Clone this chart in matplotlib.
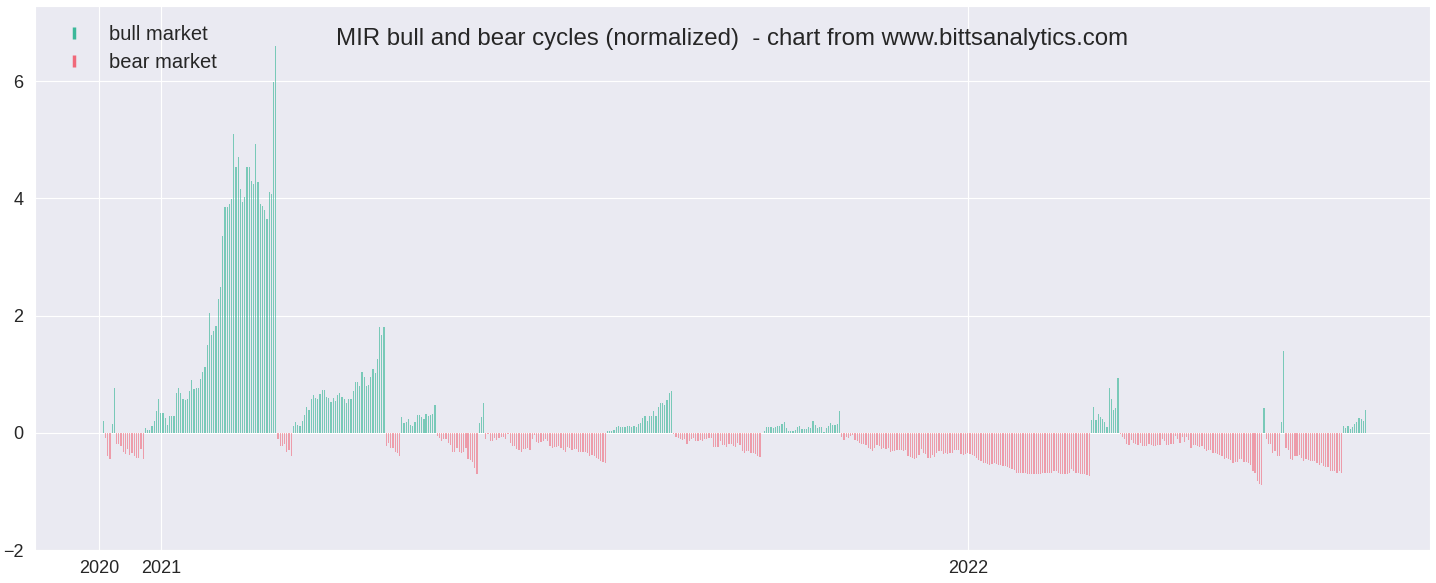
import numpy as np
import pandas as pd
import matplotlib
matplotlib.use("Agg")
import matplotlib.pyplot as plt
import matplotlib.dates as mdates
from matplotlib.lines import Line2D
import seaborn as sns

# first day of data, one value per day after that
start_date = "2020-12-06"

# normalized MIR values (positive = bull, negative = bear)
values = [
    0.2, -0.09, -0.4, -0.44, 0.15, 0.76, -0.19, -0.2, -0.23, -0.32, -0.36, -0.27,
    -0.38, -0.34, -0.4, -0.43, -0.43, -0.28, -0.45, 0.08, 0.04, 0.04, 0.12, 0.2,
    0.37, 0.57, 0.33, 0.33, 0.25, 0.14, 0.28, 0.28, 0.28, 0.67, 0.76,
    0.68, 0.58, 0.56, 0.58, 0.71, 0.9, 0.74, 0.76, 0.76, 0.91, 1.04, 1.13, 1.5,
    2.04, 1.67, 1.74, 1.82, 2.28, 2.49, 3.35, 3.85, 3.85, 3.9, 3.98, 5.1, 4.54,
    4.7, 4.15, 3.93, 4.02, 4.53, 4.53, 4.3, 4.24, 4.92, 4.28, 3.9, 3.86, 3.8,
    3.64, 4.1, 4.07, 5.98, 6.6,
    -0.1, -0.22, -0.22, -0.2, -0.32, -0.3, -0.4,
    0.11, 0.19, 0.14, 0.11, 0.2, 0.3, 0.44, 0.38, 0.57, 0.64, 0.59, 0.57, 0.66,
    0.73, 0.73, 0.61, 0.59, 0.53, 0.59, 0.54, 0.64, 0.67, 0.61, 0.57, 0.5, 0.57,
    0.57, 0.71, 0.86, 0.86, 0.8, 1.03, 0.95, 0.8, 0.81, 0.95, 1.09, 1.02, 1.26,
    1.8, 1.66, 1.8,
    -0.23, -0.18, -0.26, -0.26, -0.32, -0.35, -0.4,
    0.27, 0.16, 0.18, 0.23, 0.13, 0.11, 0.18, 0.3, 0.3, 0.27, 0.23, 0.32, 0.28,
    0.3, 0.32, 0.47,
    -0.06, -0.09, -0.14, -0.11, -0.11, -0.18, -0.21, -0.32, -0.32, -0.26, -0.32,
    -0.35, -0.33, -0.26, -0.45, -0.47, -0.5, -0.6, -0.71,
    0.16, 0.27, 0.5,
    -0.11, -0.02, -0.14, -0.14, -0.09, -0.12, -0.09, -0.07, -0.07, -0.11, -0.02,
    -0.18, -0.23, -0.23, -0.28, -0.3, -0.32, -0.28, -0.28, -0.26, -0.3, -0.11,
    -0.03, -0.16, -0.18, -0.15, -0.14, -0.11, -0.14, -0.23, -0.26, -0.24, -0.24,
    -0.23, -0.26, -0.3, -0.32, -0.24, -0.26, -0.3, -0.28, -0.28, -0.32,
    -0.32, -0.32, -0.32, -0.35, -0.39, -0.38, -0.39, -0.43, -0.45, -0.48, -0.5,
    -0.52,
    0.03, 0.03, 0.03, 0.05, 0.1, 0.11, 0.1, 0.1, 0.1, 0.11, 0.11, 0.1, 0.11,
    0.1, 0.15, 0.16, 0.25, 0.28, 0.2, 0.28, 0.28, 0.37, 0.28, 0.44, 0.51, 0.51,
    0.47, 0.56, 0.68, 0.71,
    -0.02, -0.07, -0.09, -0.11, -0.13, -0.11, -0.19, -0.14, -0.11, -0.09, -0.14,
    -0.14, -0.13, -0.14, -0.11, -0.11, -0.09, -0.09, -0.24, -0.24, -0.24, -0.14,
    -0.21, -0.21, -0.24, -0.19, -0.19, -0.23, -0.24, -0.18, -0.21, -0.31, -0.35,
    -0.31, -0.31, -0.35, -0.35, -0.36, -0.39, -0.41, 0.0,
    0.03, 0.1, 0.1, 0.1, 0.08, 0.1, 0.11, 0.11, 0.15, 0.18, 0.08, 0.03, 0.03,
    0.03, 0.05, 0.1, 0.11, 0.06, 0.06, 0.06, 0.1, 0.08, 0.2, 0.13, 0.08, 0.1,
    0.1, 0.01, 0.08, 0.11, 0.16, 0.13, 0.13, 0.15, 0.37,
    -0.07, -0.13, -0.07, -0.09, -0.06, -0.04, -0.13, -0.14, -0.18,
    -0.19, -0.19, -0.21, -0.26, -0.28, -0.31, -0.26, -0.21, -0.23, -0.28,
    -0.26, -0.28, -0.26, -0.33, -0.31, -0.31, -0.3, -0.3, -0.3, -0.31,
    -0.3, -0.4, -0.41, -0.43, -0.45, -0.43, -0.38, -0.28, -0.35, -0.36,
    -0.43, -0.43, -0.38, -0.41, -0.35, -0.31, -0.31, -0.36, -0.35, -0.36,
    -0.35, -0.35, -0.3, -0.3, -0.3, -0.36, -0.38, -0.36, -0.35, -0.36,
    -0.38, -0.4, -0.43, -0.46, -0.49, -0.51, -0.52, -0.54, -0.55, -0.54,
    -0.52, -0.54, -0.55, -0.55, -0.57, -0.57, -0.59, -0.6, -0.61, -0.63,
    -0.68, -0.68, -0.68, -0.69, -0.69, -0.71, -0.71, -0.71, -0.71, -0.71,
    -0.71, -0.71, -0.69, -0.68, -0.68, -0.69, -0.68, -0.66, -0.66, -0.68,
    -0.7, -0.71, -0.71, -0.71, -0.68, -0.62, -0.66, -0.69, -0.69, -0.7,
    -0.71, -0.71, -0.72, -0.74,
    0.22, 0.44, 0.22, 0.32, 0.27, 0.23, 0.18, 0.1, 0.76, 0.57, 0.39, 0.42, 0.93,
    -0.02, -0.07, -0.11, -0.19, -0.21, -0.13, -0.18, -0.19, -0.21, -0.18,
    -0.23, -0.23, -0.23, -0.19, -0.21, -0.23, -0.23, -0.21, -0.21, -0.11,
    -0.14, -0.21, -0.21, -0.19, -0.19, -0.06, -0.11, -0.18, -0.07, -0.16,
    -0.07, -0.13, -0.26, -0.21, -0.21, -0.23, -0.24, -0.23, -0.28, -0.31,
    -0.3, -0.3, -0.35, -0.35, -0.36, -0.38, -0.39, -0.45, -0.43, -0.45,
    -0.47, -0.52, -0.5, -0.5, -0.45, -0.45, -0.5, -0.5, -0.52, -0.55,
    -0.65, -0.69, -0.82, -0.87, -0.89,
    0.42,
    -0.11, -0.19, -0.19, -0.35, -0.31, -0.39, -0.4,
    0.18, 1.39,
    -0.26, -0.29, -0.45, -0.47, -0.4, -0.4, -0.38, -0.43, -0.48, -0.45, -0.47,
    -0.48, -0.49, -0.49, -0.52, -0.55, -0.51, -0.57, -0.59, -0.59, -0.65, -0.65,
    -0.65, -0.69, -0.66, -0.69,
    0.11, 0.08, 0.11, 0.06, 0.1, 0.15, 0.18, 0.25, 0.23, 0.2, 0.39,
]

tick_dates = ["2020-12-04", "2021-01-01", "2022-01-01"]
tick_labels = ["2020", "2021", "2022"]
title = "MIR bull and bear cycles (normalized)  - chart from www.bittsanalytics.com"

bull_color = "#3cb89a"
bear_color = "#f0697a"

sns.set_style("darkgrid")
plt.rcParams["font.family"] = ["Liberation Sans", "DejaVu Sans"]

dates = pd.date_range(start_date, periods=len(values), freq="D")
vals = np.array(values)
up = vals >= 0

fig, ax = plt.subplots(figsize=(14.36, 5.83), dpi=100)
fig.subplots_adjust(left=0.0244, right=0.9958, bottom=0.0566, top=0.9897)

ax.bar(dates[up], vals[up], width=0.55, color=bull_color, alpha=0.65,
       linewidth=0, zorder=3)
ax.bar(dates[~up], vals[~up], width=0.55, color=bear_color, alpha=0.6,
       linewidth=0, zorder=3)

x0 = mdates.date2num(pd.Timestamp("2021-01-01"))
ax.set_xlim(x0 - 56.9, x0 + 574.1)
ax.set_ylim(-2, 7.28)
ax.set_yticks([-2, 0, 2, 4, 6])
ax.set_xticks(mdates.date2num(pd.to_datetime(tick_dates)))
ax.set_xticklabels(tick_labels)
ax.tick_params(labelsize=13)
ax.tick_params(axis="y", pad=5)

handles = [
    Line2D([], [], marker="|", linestyle="None", color=bull_color,
           markersize=9, markeredgewidth=2.5, label="bull market"),
    Line2D([], [], marker="|", linestyle="None", color=bear_color,
           markersize=9, markeredgewidth=2.5, label="bear market"),
]
ax.legend(handles=handles, loc="upper left", fontsize=14.5, frameon=False,
          borderaxespad=0.55, handletextpad=0.7, labelspacing=0.42)

ax.text(0.5, 0.94, title, transform=ax.transAxes, ha="center", va="center",
        fontsize=17.3, color="#262626")

fig.savefig("out.png", dpi=100)
